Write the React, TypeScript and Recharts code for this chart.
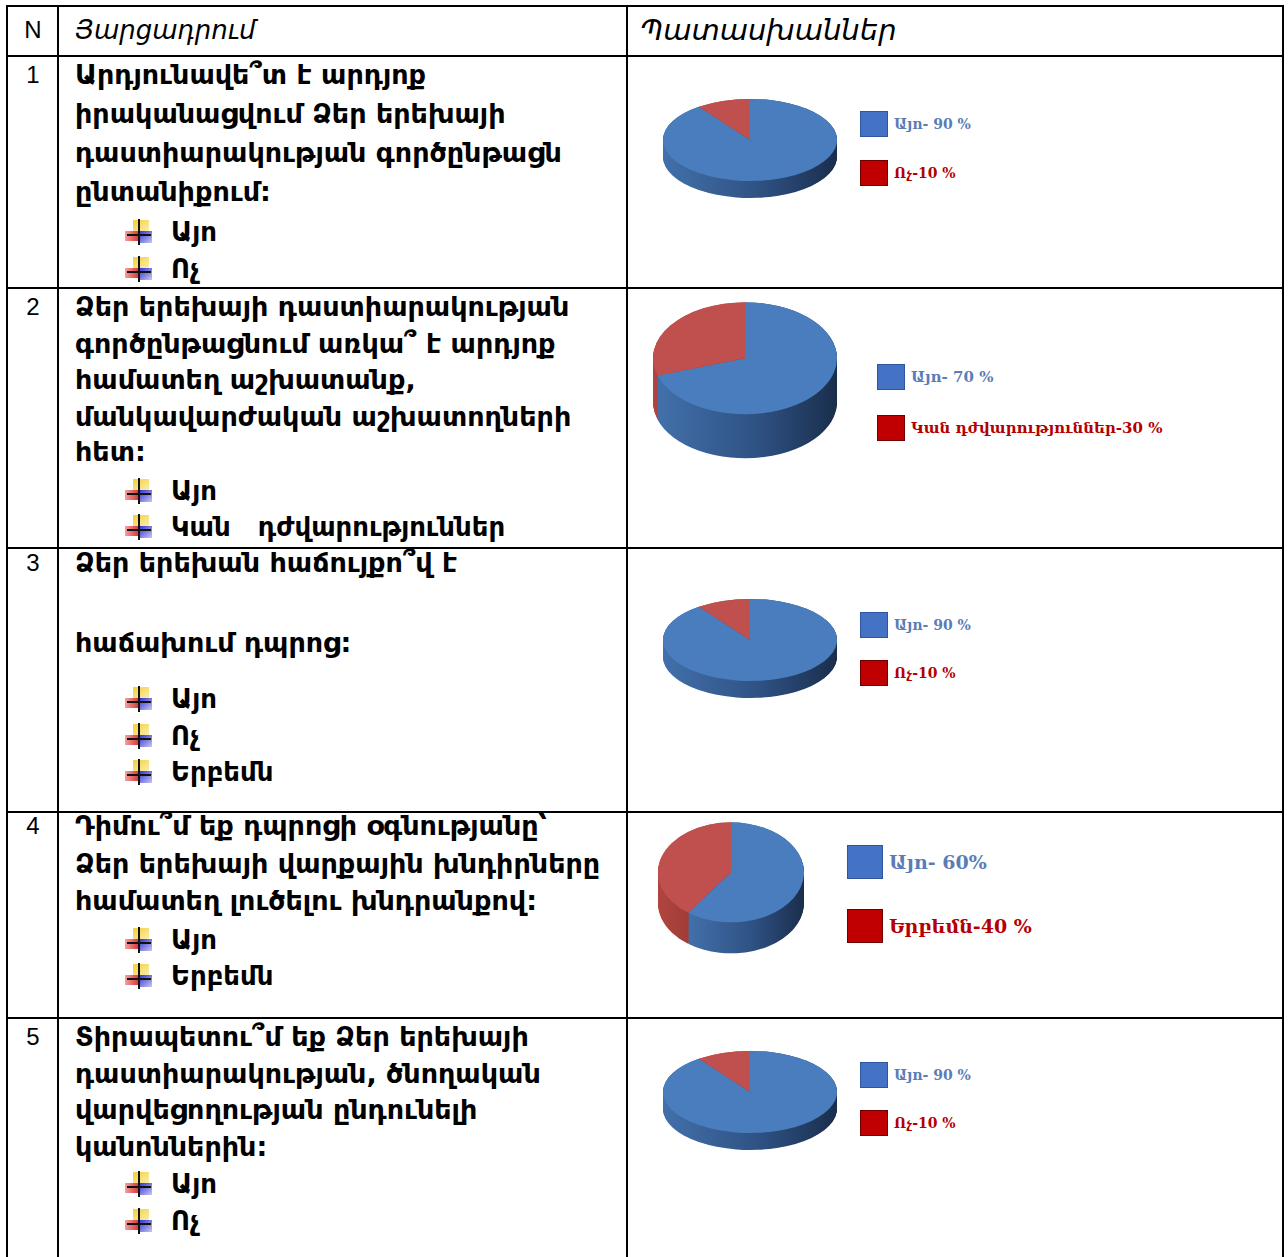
import React from 'react';
import { PieChart, Pie, Cell } from 'recharts';

// table content
const rowNumbers = ['1', '2', '3', '4', '5'];
const headers = ['N', 'Յարցադրում', 'Պատասխաններ'];
const questions = [
  ['Արդյունավե՞տ է արդյոք', 'իրականացվում Ձեր երեխայի', 'դաստիարակության գործընթացն', 'ընտանիքում:'],
  ['Ձեր երեխայի դաստիարակության', 'գործընթացնում առկա՞ է արդյոք', 'համատեղ աշխատանք,', 'մանկավարժական աշխատողների', 'հետ:'],
  ['Ձեր երեխան հաճույքո՞վ է', 'հաճախում դպրոց:'],
  ['Դիմու՞մ եք դպրոցի օգնությանը՝', 'Ձեր երեխայի վարքային խնդիրները', 'համատեղ լուծելու խնդրանքով:'],
  ['Տիրապետու՞մ եք Ձեր երեխայի', 'դաստիարակության, ծնողական', 'վարվեցողության ընդունելի', 'կանոններին:'],
];
const answerOptions = [
  ['Այո', 'Ոչ'],
  ['Այո', 'Կան   դժվարություններ'],
  ['Այո', 'Ոչ', 'Երբեմն'],
  ['Այո', 'Երբեմն'],
  ['Այո', 'Ոչ'],
];

// pie values (percent)
const sliceNames = [
  ['Այո', 'Ոչ'],
  ['Այո', 'Կան դժվարություններ'],
  ['Այո', 'Ոչ'],
  ['Այո', 'Երբեմն'],
  ['Այո', 'Ոչ'],
];
const yesShare = [90, 70, 90, 60, 90];
const otherShare = [10, 30, 10, 40, 10];
const yesLegend = ['Այո- 90 %', 'Այո- 70 %', 'Այո- 90 %', 'Այո- 60%', 'Այո- 90 %'];
const otherLegend = ['Ոչ-10 %', 'Կան դժվարություններ-30 %', 'Ոչ-10 %', 'Երբեմն-40 %', 'Ոչ-10 %'];

// layout (page pixels)
const colLines = [6, 57, 626, 1282];
const rowLines = [5, 55, 287, 547, 811, 1017];
const textLines = [
  [75, 114, 153, 192],
  [307, 344, 380, 417, 452],
  [563, 643],
  [826, 864, 901],
  [1037, 1074, 1110, 1147],
];
const bulletLines = [
  [232, 269],
  [491, 527],
  [699, 736, 772],
  [940, 976],
  [1184, 1221],
];
const pieGeom = [
  { cx: 750, cy: 140, rx: 87, ry: 41, depth: 17 },
  { cx: 745, cy: 358, rx: 92, ry: 56, depth: 44 },
  { cx: 750, cy: 640, rx: 87, ry: 41, depth: 17 },
  { cx: 731, cy: 872, rx: 73, ry: 50, depth: 31 },
  { cx: 750, cy: 1092, rx: 87, ry: 41, depth: 17 },
];
const legendGeom = [
  { x: 860, y1: 124, y2: 173, box: 28, font: 14 },
  { x: 877, y1: 377, y2: 428, box: 28, font: 15 },
  { x: 860, y1: 625, y2: 673, box: 28, font: 14 },
  { x: 847, y1: 862, y2: 926, box: 36, font: 19 },
  { x: 860, y1: 1075, y2: 1123, box: 28, font: 14 },
];

const TEXT_FONT = '"DejaVu Sans", sans-serif';
const LEGEND_FONT = '"DejaVu Serif", serif';
const BODY_SIZE = 27;

const Bullet: React.FC<{ top: number }> = ({ top }) => (
  <svg width={28} height={26} style={{ position: 'absolute', left: 124, top: top - 13 }}>
    <defs>
      <linearGradient id="bY" x1="0" y1="0" x2="1" y2="1">
        <stop offset="0" stopColor="#f3cf3a" />
        <stop offset="1" stopColor="#fbefb8" />
      </linearGradient>
      <linearGradient id="bR" x1="0" y1="0" x2="1" y2="0">
        <stop offset="0" stopColor="#f3a0a0" />
        <stop offset="1" stopColor="#d83434" />
      </linearGradient>
      <linearGradient id="bB" x1="0" y1="0" x2="1" y2="1">
        <stop offset="0" stopColor="#2828c8" />
        <stop offset="1" stopColor="#c8c8f4" />
      </linearGradient>
    </defs>
    <rect x={9} y={1} width={16} height={13} fill="url(#bY)" />
    <rect x={1} y={12} width={14} height={10} fill="url(#bR)" />
    <rect x={14} y={12} width={14} height={12} fill="url(#bB)" />
    <rect x={14} y={0} width={2} height={26} fill="#111" />
    <rect x={3} y={15} width={24} height={2} fill="#111" />
  </svg>
);

interface Pie3DProps {
  idx: number;
  cx: number;
  cy: number;
  rx: number;
  ry: number;
  depth: number;
}

const Pie3D: React.FC<Pie3DProps> = ({ idx, cx, cy, rx, ry, depth }) => {
  const s = ry / rx;
  const d = depth / s;
  const pad = 2;
  const w = rx * 2 + pad * 2;
  const h = rx * 2 + d + pad * 2;
  const data = sliceNames[idx].map((name, i) => ({
    name,
    value: i === 0 ? yesShare[idx] : otherShare[idx],
  }));
  const layers: number[] = [];
  for (let k = d; k > 0; k -= 1.5) layers.push(k);
  const sb = `sideBlue${idx}`;
  const sr = `sideRed${idx}`;
  return (
    <div
      style={{
        position: 'absolute',
        left: cx - w / 2,
        top: cy - (rx + pad) * s,
        width: w,
        height: h * s,
      }}
    >
      <div style={{ width: w, height: h, transform: `scaleY(${s})`, transformOrigin: '0 0' }}>
        <PieChart width={w} height={h} margin={{ top: 0, right: 0, bottom: 0, left: 0 }}>
          <defs>
            <linearGradient id={sb} x1="0" y1="0" x2="1" y2="0">
              <stop offset="0" stopColor="#4270aa" />
              <stop offset="0.55" stopColor="#2f5284" />
              <stop offset="1" stopColor="#1a2e4c" />
            </linearGradient>
            <linearGradient id={sr} x1="0" y1="0" x2="1" y2="0">
              <stop offset="0" stopColor="#b0453f" />
              <stop offset="1" stopColor="#8a2f2b" />
            </linearGradient>
          </defs>
          {layers.map((k) => (
            <Pie
              key={k}
              data={data}
              dataKey="value"
              cx={rx + pad}
              cy={rx + pad + k}
              outerRadius={rx}
              startAngle={90}
              endAngle={-270}
              stroke="none"
              isAnimationActive={false}
            >
              {data.map((e, i) => (
                <Cell key={e.name} fill={i === 0 ? `url(#${sb})` : `url(#${sr})`} />
              ))}
            </Pie>
          ))}
          <Pie
            data={data}
            dataKey="value"
            cx={rx + pad}
            cy={rx + pad}
            outerRadius={rx}
            startAngle={90}
            endAngle={-270}
            stroke="none"
            isAnimationActive={false}
          >
            {data.map((e, i) => (
              <Cell key={e.name} fill={i === 0 ? '#4a7dbd' : '#c0504d'} />
            ))}
          </Pie>
        </PieChart>
      </div>
    </div>
  );
};

const Legend3D: React.FC<{ idx: number }> = ({ idx }) => {
  const g = legendGeom[idx];
  const item = (y: number, text: string, fill: string, border: string, color: string) => (
    <div
      style={{
        position: 'absolute',
        left: g.x,
        top: y - g.box / 2,
        height: g.box,
        display: 'flex',
        alignItems: 'center',
        whiteSpace: 'nowrap',
      }}
    >
      <div
        style={{
          width: g.box,
          height: g.box - 2,
          background: fill,
          border: `1px solid ${border}`,
          boxSizing: 'border-box',
          marginRight: 6,
        }}
      />
      <span style={{ fontFamily: LEGEND_FONT, fontWeight: 'bold', fontSize: g.font, color }}>{text}</span>
    </div>
  );
  return (
    <>
      {item(g.y1, yesLegend[idx], '#4472c4', '#2f55a0', '#5a7db6')}
      {item(g.y2, otherLegend[idx], '#c00000', '#6e0000', '#b40000')}
    </>
  );
};

const App: React.FC = () => {
  return (
    <div
      style={{
        position: 'absolute',
        left: 0,
        top: 0,
        width: 1288,
        height: 1257,
        background: '#fff',
        overflow: 'hidden',
      }}
    >
      {colLines.map((x) => (
        <div key={`c${x}`} style={{ position: 'absolute', left: x, top: 5, width: 2, height: 1257, background: '#000' }} />
      ))}
      {rowLines.map((y) => (
        <div key={`r${y}`} style={{ position: 'absolute', left: 6, top: y, width: 1278, height: 2, background: '#000' }} />
      ))}

      <div style={{ position: 'absolute', left: 21, top: 15, width: 24, textAlign: 'center', fontFamily: '"Liberation Sans", Arial, sans-serif', fontSize: 24, lineHeight: '30px' }}>
        {headers[0]}
      </div>
      <div style={{ position: 'absolute', left: 75, top: 15, fontFamily: TEXT_FONT, fontStyle: 'italic', fontSize: 26, lineHeight: '30px' }}>
        {headers[1]}
      </div>
      <div style={{ position: 'absolute', left: 640, top: 15, fontFamily: TEXT_FONT, fontStyle: 'italic', fontSize: 29, lineHeight: '30px' }}>
        {headers[2]}
      </div>

      {rowNumbers.map((n, r) => (
        <React.Fragment key={n}>
          <div
            style={{
              position: 'absolute',
              left: 21,
              top: textLines[r][0] - 15,
              width: 24,
              textAlign: 'center',
              fontFamily: '"Liberation Sans", Arial, sans-serif',
              fontSize: 24,
              lineHeight: '30px',
            }}
          >
            {n}
          </div>
          {questions[r].map((line, i) => (
            <div
              key={`q${i}`}
              style={{
                position: 'absolute',
                left: 75,
                top: textLines[r][i] - 17,
                fontFamily: TEXT_FONT,
                fontWeight: 'bold',
                fontSize: BODY_SIZE,
                lineHeight: '34px',
                whiteSpace: 'pre',
              }}
            >
              {line}
            </div>
          ))}
          {answerOptions[r].map((opt, i) => (
            <React.Fragment key={`a${i}`}>
              <Bullet top={bulletLines[r][i]} />
              <div
                style={{
                  position: 'absolute',
                  left: 171,
                  top: bulletLines[r][i] - 17,
                  fontFamily: TEXT_FONT,
                  fontWeight: 'bold',
                  fontSize: BODY_SIZE - 1,
                  lineHeight: '34px',
                  whiteSpace: 'pre',
                }}
              >
                {opt}
              </div>
            </React.Fragment>
          ))}
          <Pie3D idx={r} {...pieGeom[r]} />
          <Legend3D idx={r} />
        </React.Fragment>
      ))}
    </div>
  );
};

export default App;
